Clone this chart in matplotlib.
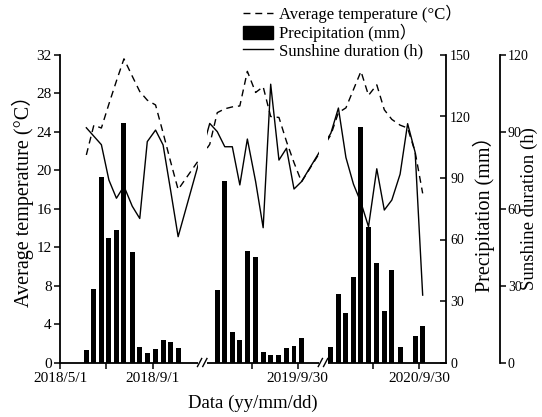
import matplotlib
matplotlib.use("Agg")
import matplotlib.pyplot as plt
import matplotlib.transforms as mtransforms
from matplotlib.patches import Rectangle, Patch
from matplotlib.lines import Line2D
from datetime import date

plt.rcParams['font.family'] = ['Liberation Serif', 'Noto Sans CJK SC']
plt.rcParams['mathtext.fontset'] = 'stix'

# ---------------- data ----------------
years = [2018, 2019, 2020]
dekads = ["06-05", "06-15", "06-25", "07-05", "07-15", "07-25", "08-05",
          "08-15", "08-25", "09-05", "09-15", "09-25", "10-05"]

temp_2018 = [21.6, 24.7, 24.4, 26.9, 29.3, 31.6, 29.8, 28.2, 27.3, 26.8, 23.9, 20.9, 18.0]
temp_2019 = [22.7, 26.0, 26.4, 26.6, 26.7, 30.3, 28.1, 28.7, 25.6, 25.5, 23.0, 20.8, 18.8]
temp_2020 = [23.7, 26.0, 26.5, 28.4, 30.3, 27.8, 28.9, 26.3, 25.3, 24.7, 24.4, 21.9, 17.6]

precip_2018 = [6.2, 36.0, 90.5, 60.7, 64.8, 116.9, 53.9, 7.8, 4.7, 6.7, 11.1, 9.9, 7.2]
precip_2019 = [0.0, 35.4, 88.7, 15.0, 11.2, 54.4, 51.6, 5.3, 3.7, 3.7, 7.0, 8.0, 12.0]
precip_2020 = [7.4, 33.4, 24.0, 41.9, 114.8, 66.3, 48.7, 25.0, 45.0, 7.7, 0.0, 12.8, 17.8]

sun_2018 = [91.6, 88.3, 85.0, 71.2, 64.1, 68.8, 61.0, 56.2, 86.2, 90.7, 84.9, 67.2, 49.1]
sun_2019 = [93.3, 90.1, 84.2, 84.2, 69.3, 87.2, 70.6, 52.6, 108.6, 79.0, 83.6, 67.7, 70.6]
sun_2020 = [89.5, 99.3, 80.0, 69.6, 62.4, 53.0, 75.6, 59.5, 63.4, 73.5, 93.2, 82.0, 26.3]

# broken x-axis segments (start, end) and gaps between them (days)
segments = [(date(2018, 5, 1), date(2018, 10, 31)),
            (date(2019, 6, 2), date(2019, 10, 28)),
            (date(2020, 6, 1), date(2020, 11, 5))]
gap_days = [13, 12]

tick_dates = [date(2018, 5, 1), date(2018, 7, 1), date(2018, 9, 1),
              date(2019, 7, 31), date(2019, 9, 30),
              date(2020, 7, 31), date(2020, 9, 30)]
tick_labelled = [True, False, True, False, True, False, True]

# ---------------- helpers ----------------
seg_offsets = []
off = 0
for i, (s, e) in enumerate(segments):
    seg_offsets.append(off)
    off += (e - s).days
    if i < len(gap_days):
        off += gap_days[i]
x_total = off


def to_x(d):
    for i in range(len(segments) - 1, -1, -1):
        s, e = segments[i]
        if d >= s:
            return seg_offsets[i] + (d - s).days
    return 0


gaps = []
for i in range(len(gap_days)):
    s, e = segments[i]
    g0 = seg_offsets[i] + (e - s).days
    gaps.append((g0, g0 + gap_days[i]))

dates_all = []
for y in years:
    for dk in dekads:
        m, d = dk.split("-")
        dates_all.append(date(y, int(m), int(d)))
x_all = [to_x(d) for d in dates_all]
temp_all = temp_2018 + temp_2019 + temp_2020
precip_all = precip_2018 + precip_2019 + precip_2020
sun_all = sun_2018 + sun_2019 + sun_2020

# ---------------- figure ----------------
fig = plt.figure(figsize=(5.42, 4.17), dpi=100)
ax = fig.add_axes([60 / 542, 54.5 / 417, 386 / 542, 307.5 / 417])
ax2 = ax.twinx()
ax3 = ax.twinx()

spine_lw = 1.3
tick_fs = 11
rtick_fs = 10
label_fs = 14.5
dash = (0, (5, 3.5))

# temperature (left)
ax.plot(x_all, temp_all, color='black', lw=1.0, ls=dash, zorder=3)
ax.set_ylim(0, 32)
ax.set_yticks(range(0, 33, 4))
ax.set_xlim(0, x_total)
ax.set_ylabel("Average temperature (°C）", fontsize=label_fs)
ax.yaxis.set_label_coords(-0.067, 0.54)
ax.set_xlabel("Data (yy/mm/dd)", fontsize=13.5, labelpad=7)
ax.set_xticks([to_x(d) for d in tick_dates])
ax.set_xticklabels([f"{d.year}/{d.month}/{d.day}" if lab else ""
                    for d, lab in zip(tick_dates, tick_labelled)])
ax.tick_params(axis='both', direction='out', length=4, width=1.1,
               labelsize=tick_fs, pad=2)
ax.tick_params(axis='x', pad=3)
for sp in ['top', 'right']:
    ax.spines[sp].set_visible(False)
for sp in ['left', 'bottom']:
    ax.spines[sp].set_linewidth(spine_lw)

# precipitation (right, bars)
ax2.bar(x_all, precip_all, width=6.6, color='black', zorder=2)
ax2.set_ylim(0, 150)
ax2.set_yticks(range(0, 151, 30))
ax2.set_ylabel("Precipitation (mm）", fontsize=label_fs, labelpad=1)
ax2.tick_params(axis='y', direction='in', length=4, width=1.1,
                labelsize=rtick_fs, pad=3)
for sp in ['top', 'left', 'bottom']:
    ax2.spines[sp].set_visible(False)
ax2.spines['right'].set_linewidth(spine_lw)

# sunshine (offset right axis)
ax3.plot(x_all, sun_all, color='black', lw=1.0, zorder=3)
ax3.set_ylim(0, 120)
ax3.set_yticks(range(0, 121, 30))
ax3.set_ylabel("Sunshine duration (h)", fontsize=13.5, va='center')
ax3.yaxis.set_label_coords(1.2165, 0.5)
ax3.spines['right'].set_position(('outward', 39))
ax3.tick_params(axis='y', direction='out', length=4, width=1.1,
                labelsize=rtick_fs, pad=1.5)
for sp in ['top', 'left', 'bottom']:
    ax3.spines[sp].set_visible(False)
ax3.spines['right'].set_linewidth(spine_lw)

# axis breaks: white out gaps and draw // marks
trans = mtransforms.blended_transform_factory(ax3.transData, ax3.transAxes)
for g0, g1 in gaps:
    ax3.add_patch(Rectangle((g0, -0.012), g1 - g0, 1.02, transform=trans,
                            facecolor='white', edgecolor='none', zorder=10,
                            clip_on=False))
    gc = (g0 + g1) / 2
    for cx in (gc - 4.0, gc + 3.0):
        ax3.add_line(Line2D([cx - 2.8, cx + 2.8], [-0.013, 0.013],
                            transform=trans, color='black', lw=1.0,
                            zorder=11, clip_on=False))

# legend
handles = [Line2D([], [], color='black', lw=1.0, ls=dash),
           Patch(facecolor='black', edgecolor='black'),
           Line2D([], [], color='black', lw=1.0)]
labels = ["Average temperature (°C）", "Precipitation (mm）", "Sunshine duration (h)"]
fig.legend(handles, labels, loc='upper left', bbox_to_anchor=(243 / 542, 1 - 5 / 417),
           frameon=False, fontsize=12, handlelength=1.8, handletextpad=0.35,
           labelspacing=0.05, borderpad=0, borderaxespad=0, handleheight=0.75)

fig.savefig("out.png", dpi=100)
